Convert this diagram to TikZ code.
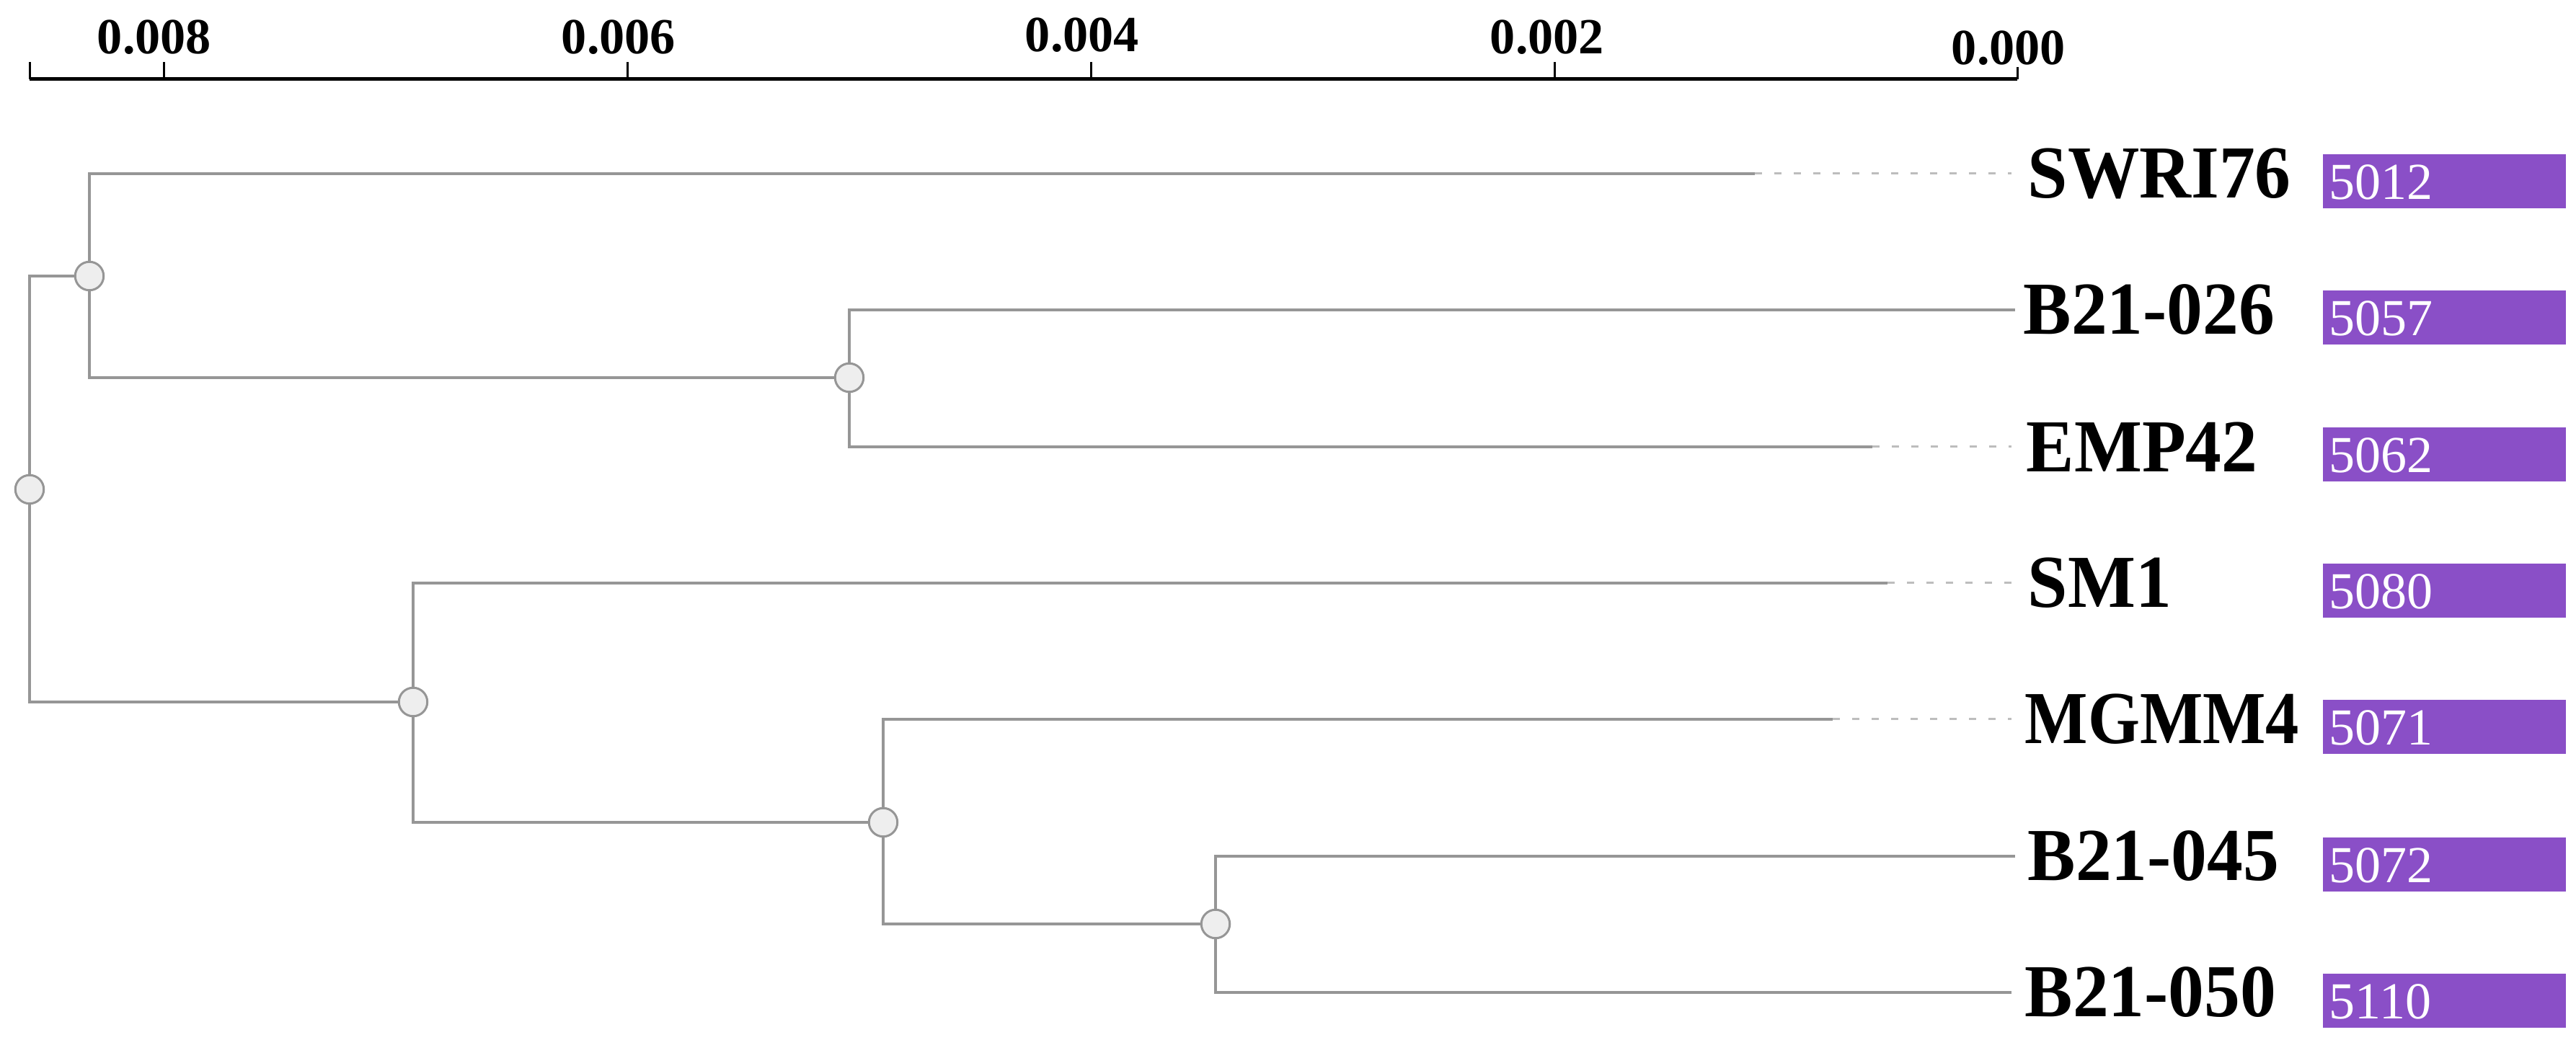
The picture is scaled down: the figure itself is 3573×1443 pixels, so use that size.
\documentclass[tikz,border=0pt]{standalone}
\usepackage{fontspec}
\usepackage{graphicx}
\setmainfont{Liberation Serif}
\newfontfamily\taxonfont[FakeStretch=0.96]{Liberation Serif}
\definecolor{branchgray}{HTML}{969696}
\definecolor{guidegray}{HTML}{BDBDBD}
\definecolor{nodefill}{HTML}{EEEEEE}
\definecolor{purp}{HTML}{8A4FC7}
\begin{document}
\begin{tikzpicture}[x=0.1mm,y=-0.1mm,
  branch/.style={draw=branchgray, line width=0.42mm},
  guide/.style={draw=guidegray, line width=0.3mm, dash pattern=on 1mm off 1.7mm},
  inode/.style={circle, draw=branchgray, fill=nodefill, line width=0.3mm, minimum size=3.95mm, inner sep=0pt},
  taxon/.style={anchor=west, inner sep=0pt, font=\taxonfont\fontsize{29.5}{29.5}\selectfont\bfseries},
  sizebox/.style={fill=purp, draw=none, minimum width=33.7mm, minimum height=7.5mm, anchor=west, inner sep=0pt},
  sizetxt/.style={anchor=base west, inner sep=0pt, text=white, font=\fontsize{20.5}{20.5}\selectfont},
  axisline/.style={draw=black, line width=0.5mm},
  axtick/.style={draw=black, line width=0.3mm},
  axlabel/.style={anchor=base, inner sep=0pt, font=\fontsize{20}{20}\selectfont\bfseries}
]
\useasboundingbox (0,0) rectangle (3573,1443);

% ---- scale axis ----
\coordinate (ax0) at (41,110);
\coordinate (ax1) at (2798,110);
\draw[axisline] (ax0) -- (ax1);
\foreach \tx in {41,227,870,1513,2156} { \draw[axtick] (\tx,86) -- (\tx,110); }
\draw[axtick] (2798,93) -- (2798,110);
\node[axlabel] (t8) at (214,75) {0.008};
\node[axlabel] (t6) at (858,75) {0.006};
\node[axlabel] (t4) at (1501,72) {0.004};
\node[axlabel] (t2) at (2146,75) {0.002};
\node[axlabel] (t0) at (2786,90) {0.000};

% ---- leaf ends ----
\coordinate (s1) at (2434,241);  \coordinate (e1) at (2790,241);
\coordinate (s2) at (2795,430);
\coordinate (s3) at (2597,620);  \coordinate (e3) at (2790,620);
\coordinate (s4) at (2618,809);  \coordinate (e4) at (2790,809);
\coordinate (s5) at (2542,998);  \coordinate (e5) at (2790,998);
\coordinate (s6) at (2795,1188);
\coordinate (s7) at (2790,1377);

% ---- internal nodes ----
\node[inode] (R) at (41,679) {};
\node[inode] (A) at (124,383) {};
\node[inode] (B) at (1178,524) {};
\node[inode] (C) at (573,974) {};
\node[inode] (D) at (1225,1141) {};
\node[inode] (E) at (1686,1282) {};

% ---- branches ----
\draw[branch] (R) |- (A);
\draw[branch] (R) |- (C);
\draw[branch] (A) |- (s1);
\draw[branch] (A) |- (B);
\draw[branch] (B) |- (s2);
\draw[branch] (B) |- (s3);
\draw[branch] (C) |- (s4);
\draw[branch] (C) |- (D);
\draw[branch] (D) |- (s5);
\draw[branch] (D) |- (E);
\draw[branch] (E) |- (s6);
\draw[branch] (E) |- (s7);

% ---- dashed guides ----
\draw[guide] (s1) -- (e1);
\draw[guide] (s3) -- (e3);
\draw[guide] (s4) -- (e4);
\draw[guide] (s5) -- (e5);

% ---- taxon labels ----
\node[taxon] (n1) at (2812,241) {SWRI76};
\node[taxon] (n2) at (2806,430) {B21-026};
\node[taxon] (n3) at (2810,620) {EMP42};
\node[taxon] (n4) at (2812,809) {SM1};
\node[taxon] (n5) at (2808,998) {\scalebox{0.93}[1]{MGMM4}};
\node[taxon] (n6) at (2812,1188) {B21-045};
\node[taxon] (n7) at (2808,1377) {B21-050};

% ---- size boxes ----
\node[sizebox] (b1) at (3221,252) {};
\node[sizebox] (b2) at (3221,441) {};
\node[sizebox] (b3) at (3221,631) {};
\node[sizebox] (b4) at (3221,820) {};
\node[sizebox] (b5) at (3221,1009) {};
\node[sizebox] (b6) at (3221,1199) {};
\node[sizebox] (b7) at (3221,1388) {};
\node[sizetxt] (v1) at (3230,277) {5012};
\node[sizetxt] (v2) at (3230,466) {5057};
\node[sizetxt] (v3) at (3230,656) {5062};
\node[sizetxt] (v4) at (3230,845) {5080};
\node[sizetxt] (v5) at (3230,1034) {5071};
\node[sizetxt] (v6) at (3230,1224) {5072};
\node[sizetxt] (v7) at (3230,1413) {5110};
\end{tikzpicture}
\end{document}
